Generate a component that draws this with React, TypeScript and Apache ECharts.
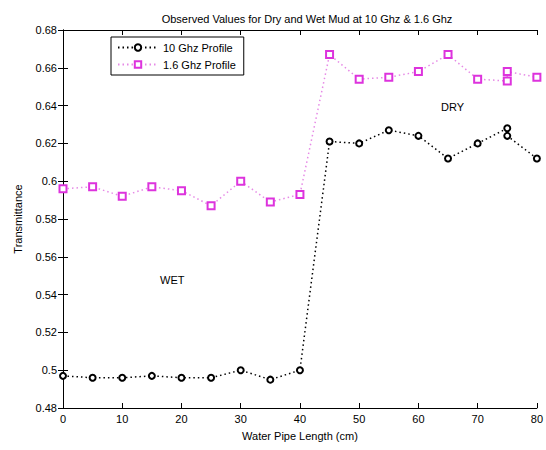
import React, { useEffect, useRef } from "react";
import * as echarts from "echarts";

// Pipe length positions (cm); the 75 cm position was measured twice
const lengths = [0, 5, 10, 15, 20, 25, 30, 35, 40, 45, 50, 55, 60, 65, 70, 75, 75, 80];
// Transmittance at 10 GHz
const t10Ghz = [0.497, 0.496, 0.496, 0.497, 0.496, 0.496, 0.5, 0.495, 0.5, 0.621, 0.62, 0.627, 0.624, 0.612, 0.62, 0.628, 0.624, 0.612];
// Transmittance at 1.6 GHz
const t16Ghz = [0.596, 0.597, 0.592, 0.597, 0.595, 0.587, 0.6, 0.589, 0.593, 0.667, 0.654, 0.655, 0.658, 0.667, 0.654, 0.653, 0.658, 0.655];

const seriesNames = ["10 Ghz Profile", "1.6 Ghz Profile"];
const titleText = "Observed Values for Dry and Wet Mud at 10 Ghz & 1.6 Ghz";
const xLabel = "Water Pipe Length (cm)";
const yLabel = "Transmittance";

const FONT = "'Liberation Sans', Arial, sans-serif";
const MAGENTA = "#dd33dd";

export default function App() {
  const ref = useRef<HTMLDivElement>(null);

  useEffect(() => {
    if (!ref.current) return;
    const chart = echarts.init(ref.current, null, { renderer: "svg" });

    const pairs = (ys: number[]) => lengths.map((x, i) => [x, ys[i]]);
    const axisLine = { show: true, lineStyle: { color: "#000", width: 1 } };
    const tick = { show: true, inside: true, length: 5, lineStyle: { color: "#000" } };
    const fmtY = (v: number) => String(parseFloat(v.toFixed(2)));

    chart.setOption({
      animation: false,
      backgroundColor: "#fff",
      textStyle: { fontFamily: FONT },
      title: {
        text: titleText,
        left: 302,
        top: 8,
        textAlign: "center",
        textStyle: { fontFamily: FONT, fontSize: 11, fontWeight: "normal", color: "#000" },
      },
      legend: {
        orient: "vertical",
        left: 111,
        top: 37,
        padding: [5, 8, 5, 6],
        itemGap: 6,
        itemWidth: 40,
        itemHeight: 8,
        borderColor: "#000",
        borderWidth: 1,
        backgroundColor: "#fff",
        textStyle: { fontFamily: FONT, fontSize: 11, color: "#000" },
        data: seriesNames,
      },
      grid: { left: 63, right: 5, top: 30, bottom: 42 },
      xAxis: [
        {
          type: "value",
          min: 0,
          max: 80,
          interval: 10,
          name: xLabel,
          nameLocation: "middle",
          nameGap: 22,
          nameTextStyle: { fontFamily: FONT, fontSize: 11, color: "#000" },
          axisLine,
          axisTick: tick,
          axisLabel: { fontFamily: FONT, fontSize: 11, color: "#000", margin: 5 },
          splitLine: { show: false },
        },
        {
          type: "value",
          position: "top",
          min: 0,
          max: 80,
          interval: 10,
          axisLine,
          axisTick: tick,
          axisLabel: { show: false },
          splitLine: { show: false },
        },
      ],
      yAxis: [
        {
          type: "value",
          min: 0.48,
          max: 0.68,
          interval: 0.02,
          name: yLabel,
          nameLocation: "middle",
          nameGap: 40,
          nameTextStyle: { fontFamily: FONT, fontSize: 11, color: "#000" },
          axisLine,
          axisTick: tick,
          axisLabel: { fontFamily: FONT, fontSize: 11, color: "#000", margin: 6, formatter: fmtY },
          splitLine: { show: false },
        },
        {
          type: "value",
          position: "right",
          min: 0.48,
          max: 0.68,
          interval: 0.02,
          axisLine,
          axisTick: tick,
          axisLabel: { show: false },
          splitLine: { show: false },
        },
      ],
      series: [
        {
          name: seriesNames[0],
          type: "line",
          data: pairs(t10Ghz),
          symbol: "emptyCircle",
          symbolSize: 6,
          color: "#000",
          itemStyle: { color: "#000", borderColor: "#000", borderWidth: 1.6 },
          lineStyle: { color: "#000", width: 1.5, type: [1.5, 3] },
          z: 3,
        },
        {
          name: seriesNames[1],
          type: "line",
          data: pairs(t16Ghz),
          symbol: "emptyRect",
          symbolSize: 7,
          color: MAGENTA,
          itemStyle: { color: MAGENTA, borderColor: MAGENTA, borderWidth: 1.8 },
          lineStyle: { color: "#e68ae6", width: 1.5, type: [1.5, 3] },
          z: 2,
        },
      ],
      graphic: [
        {
          type: "text",
          left: 160,
          top: 274,
          style: { text: "WET", font: `11px ${FONT}`, fill: "#000" },
        },
        {
          type: "text",
          left: 441,
          top: 101,
          style: { text: "DRY", font: `11px ${FONT}`, fill: "#000" },
        },
      ],
    });

    return () => chart.dispose();
  }, []);

  return (
    <div
      ref={ref}
      style={{ position: "fixed", left: 0, top: 0, width: 546, height: 450, background: "#fff" }}
    />
  );
}
